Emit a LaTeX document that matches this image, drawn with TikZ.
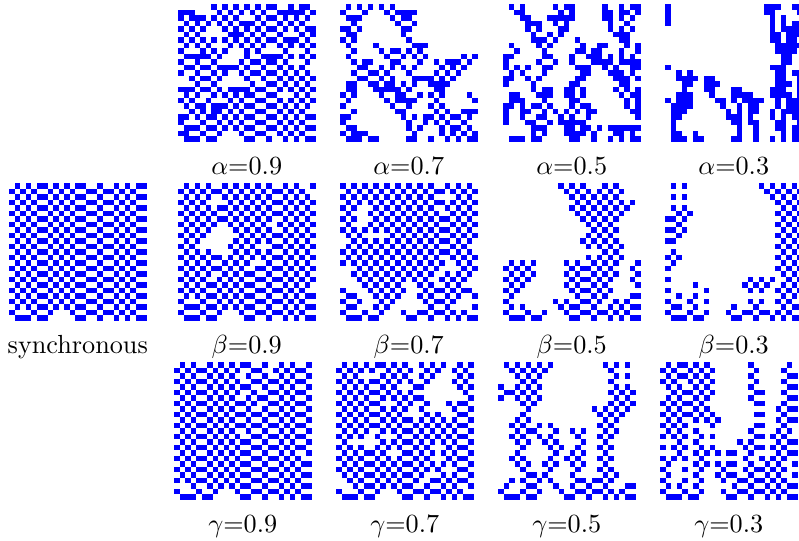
\documentclass[tikz,border=0pt]{standalone}
\usetikzlibrary{positioning}

\definecolor{cellblue}{RGB}{0,0,255}

% ECA 50 on a ring of 25 cells, same start row for every diagram, time goes up
\def\initrow{0,1,1,1,0,1,1,0,0,0,0,0,1,1,0,0,1,0,0,1,0,1,0,1,1}
\def\csz{5.5}

\makeatletter
\def\ca@rule#1#2#3{\ifnum#2=0 \ifnum\numexpr#1+#3\relax>0 1\else0\fi\else0\fi}
\def\ca@get#1#2{\csname ca@#1@#2\endcsname}
\def\ca@put#1#2#3{\expandafter\xdef\csname ca@#1@#2\endcsname{#3}}
\def\ca@nb{% neighbours of cell \i
  \edef\l{\ifnum\i=0 24\else\the\numexpr\i-1\relax\fi}%
  \edef\r{\ifnum\i=24 0\else\the\numexpr\i+1\relax\fi}}
\def\ca@coin#1#2#3{\pgfmathrnd\ifdim\pgfmathresult pt<#1pt #2\else #3\fi}
% alpha: each cell updated with probability #1
\def\ca@stepa#1{%
  \foreach \i in {0,...,24}{\ca@nb
    \ca@coin{#1}{\ca@put n\i{\ca@rule{\ca@get q\l}{\ca@get q\i}{\ca@get q\r}}}{\ca@put n\i{\ca@get q\i}}}%
  \foreach \i in {0,...,24}{\ca@put q\i{\ca@get n\i}}}
% beta: new state shown to the neighbours with probability #1
\def\ca@stepb#1{%
  \foreach \i in {0,...,24}{\ca@nb
    \ca@put n\i{\ca@rule{\ca@get p\l}{\ca@get q\i}{\ca@get p\r}}}%
  \foreach \i in {0,...,24}{\ca@put q\i{\ca@get n\i}%
    \ca@coin{#1}{\ca@put p\i{\ca@get n\i}}{}}}
% gamma: each link passes the state with probability #1
\def\ca@stepg#1{%
  \foreach \i in {0,...,24}{\ca@nb
    \ca@coin{#1}{\ca@put L\i{\ca@get q\l}}{}%
    \ca@coin{#1}{\ca@put R\i{\ca@get q\r}}{}%
    \ca@put n\i{\ca@rule{\ca@get L\i}{\ca@get q\i}{\ca@get R\i}}}%
  \foreach \i in {0,...,24}{\ca@put q\i{\ca@get n\i}}}
\def\ca@row#1{%
  \foreach \i in {0,...,24}{%
    \ifnum\ca@get q\i=1
      \fill[cellon] (\i*\csz,{(24-#1)*\csz}) rectangle ++(\csz+0.3,\csz+0.3);
    \fi}}
\newcommand\spacetime[3]{% #1 = a, b or g; #2 = probability; #3 = seed
  \pgfmathsetseed{#3}%
  \foreach \v [count=\k from 0] in \initrow {\ca@put q\k{\v}\ca@put p\k{\v}}%
  \foreach \i in {0,...,24}{\ca@nb\ca@put L\i{\ca@get q\l}\ca@put R\i{\ca@get q\r}}%
  \ca@row{0}%
  \foreach \t in {1,...,24}{\csname ca@step#1\endcsname{#2}\ca@row{\t}}}
\makeatother

\begin{document}
\begin{tikzpicture}[x=0.3817pt, y=-0.3817pt,
    cellon/.style={fill=cellblue},
    plabel/.style={anchor=base, inner sep=0pt}]
  \useasboundingbox (0,0) rectangle (799,540);

  \begin{scope}[shift={(9,183)}]
    \spacetime{a}{1}{7}
  \end{scope}
  \node[plabel] (sync) at (77.75,353) {synchronous};

  \foreach \pv/\xa/\xg/\sa/\sb/\sg [count=\c] in
      {0.9/178/174/11/12/13, 0.7/340/336/21/95/23,
       0.5/503/498/31/32/33, 0.3/665/660/58/42/43}{
    \begin{scope}[shift={(\xa,4)}]
      \spacetime{a}{\pv}{\sa}
    \end{scope}
    \node[plabel] (alpha\c) at (\xa+68.75,174) {$\alpha$=\pv};
    \begin{scope}[shift={(\xa,183)}]
      \spacetime{b}{\pv}{\sb}
    \end{scope}
    \node[plabel] (beta\c) at (\xa+68.75,353) {$\beta$=\pv};
    \begin{scope}[shift={(\xg,362)}]
      \spacetime{g}{\pv}{\sg}
    \end{scope}
    \node[plabel] (gamma\c) at (\xg+68.75,532) {$\gamma$=\pv};
  }
\end{tikzpicture}
\end{document}
